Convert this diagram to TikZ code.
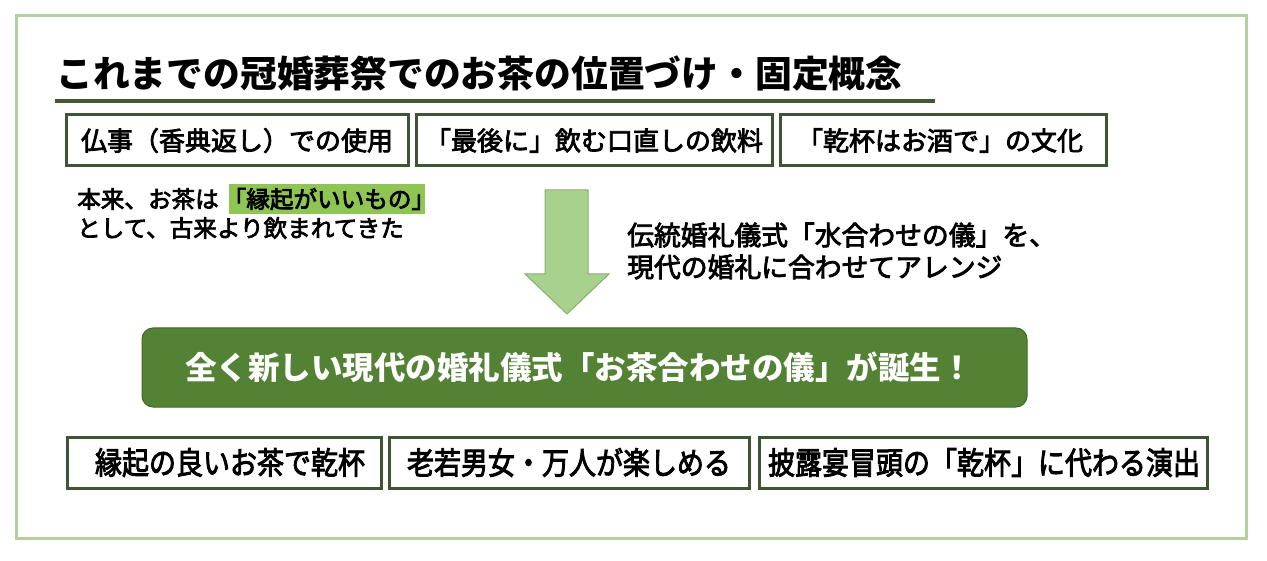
\documentclass[tikz,border=0pt]{standalone}
\usepackage{fontspec}
\setmainfont{Noto Sans CJK JP}
\newfontfamily\jp{Noto Sans CJK JP}
\newfontfamily\jpm[FakeBold=3]{Noto Sans CJK JP}
\definecolor{framegreen}{HTML}{B4CFA0}
\definecolor{boxborder}{HTML}{3E5533}
\definecolor{maingreen}{HTML}{548235}
\definecolor{arrowfill}{HTML}{A9D18E}
\definecolor{arrowline}{HTML}{86AE70}
\definecolor{hlgreen}{HTML}{8FC552}
\definecolor{rulegreen}{HTML}{3E5A2E}
\begin{document}
\begin{tikzpicture}[x=1pt,y=-1pt,
  boxstyle/.style={draw=boxborder,line width=3pt,fill=white,inner sep=0pt},
  boxtext/.style={font=\jpm\fontsize{26}{30}\selectfont,anchor=center,inner sep=0pt},
  bottomtext/.style={font=\jpm\fontsize{27}{30}\selectfont,anchor=center,inner sep=0pt,yscale=1.15},
  plaintext/.style={font=\jpm\fontsize{23.6}{27}\selectfont,anchor=west,inner sep=0pt,align=left},
  righttext/.style={font=\jpm\fontsize{26.8}{32}\selectfont,anchor=west,inner sep=0pt,align=left}]
\useasboundingbox (0,0) rectangle (1267,561);
\fill[white] (0,0) rectangle (1267,561);
% outer frame
\draw[framegreen,line width=3pt] (16,16) rectangle (1246,538);
% title
\node[font=\jp\bfseries\fontsize{36.8}{40}\selectfont,anchor=west,inner sep=0pt] (title) at (56,74) {これまでの冠婚葬祭でのお茶の位置づけ・固定概念};
\coordinate (ruleL) at (55,101);
\coordinate (ruleR) at (935,101);
\draw[rulegreen,line width=4pt] (ruleL) -- (ruleR);
% top boxes
\draw[boxstyle] (66,115) rectangle (408,166);
\node[boxtext] (t1) at (237,140.5) {仏事（香典返し）での使用};
\draw[boxstyle] (416,115) rectangle (772,166);
\node[boxtext] (t2) at (594,140.5) {「最後に」飲む口直しの飲料};
\draw[boxstyle] (780,115) rectangle (1106,166);
\node[boxtext] (t3) at (940,140.5) {「乾杯はお酒で」の文化};
% left text with highlight
\fill[hlgreen] (229,184) rectangle (425,214);
\node[plaintext] (l1) at (77,199) {本来、お茶は\,「縁起がいいもの」};
\node[plaintext] (l2) at (77,228) {として、古来より飲まれてきた};
% arrow
\draw[arrowline,fill=arrowfill,line width=1pt] (545,190) -- (588,190) -- (588,274) -- (609,274) -- (567,314) -- (525,274) -- (545,274) -- cycle;
% right text
\node[righttext] (r1) at (627,235) {伝統婚礼儀式「水合わせの儀」を、};
\node[righttext] (r2) at (627,267) {現代の婚礼に合わせてアレンジ};
% main green box
\draw[draw=maingreen!80!black,fill=maingreen,line width=1pt,rounded corners=11pt] (142,328) rectangle (1027,407);
\node[font=\jp\bfseries\fontsize{31.5}{36}\selectfont,text=white,inner sep=0pt] (main) at (579,367) {全く新しい現代の婚礼儀式「お茶合わせの儀」が誕生！};
% bottom boxes
\draw[boxstyle] (67,437) rectangle (381,488);
\node[bottomtext] (b1) at (230,462.5) {縁起の良いお茶で乾杯};
\draw[boxstyle] (389,437) rectangle (749,488);
\node[bottomtext] (b2) at (569,462.5) {老若男女・万人が楽しめる};
\draw[boxstyle] (759,437) rectangle (1207,488);
\node[bottomtext] (b3) at (984,462.5) {披露宴冒頭の「乾杯」に代わる演出};
\end{tikzpicture}
\end{document}
